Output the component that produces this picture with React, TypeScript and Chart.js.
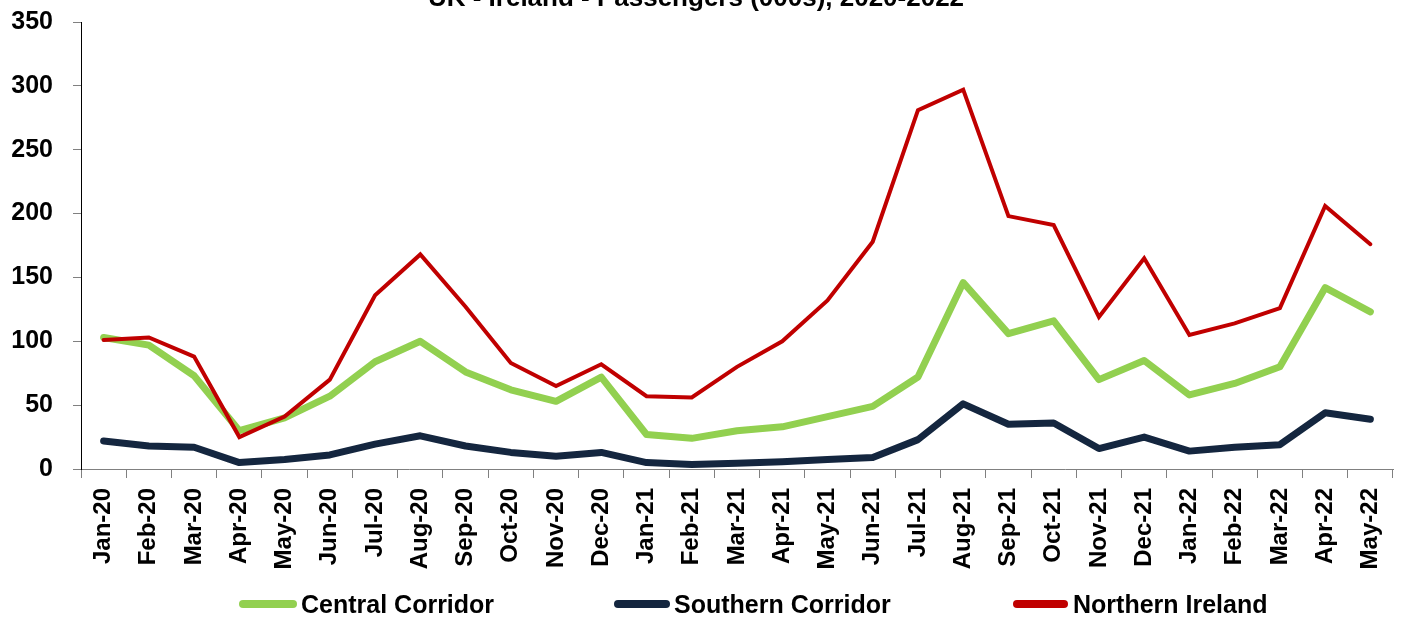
import React, { useEffect, useRef } from "react";
import { Chart, registerables } from "chart.js";

Chart.register(...registerables);

const title = "UK - Ireland - Passengers (000s), 2020-2022";

const months = [
  "Jan-20", "Feb-20", "Mar-20", "Apr-20", "May-20", "Jun-20", "Jul-20", "Aug-20",
  "Sep-20", "Oct-20", "Nov-20", "Dec-20", "Jan-21", "Feb-21", "Mar-21", "Apr-21",
  "May-21", "Jun-21", "Jul-21", "Aug-21", "Sep-21", "Oct-21", "Nov-21", "Dec-21",
  "Jan-22", "Feb-22", "Mar-22", "Apr-22", "May-22",
];

const centralCorridor = [
  103, 97, 73, 30, 40, 57, 84, 100, 76, 62, 53, 72, 27, 24, 30, 33,
  41, 49, 72, 146, 106, 116, 70, 85, 58, 67, 80, 142, 123,
];

const southernCorridor = [
  22, 18, 17, 5, 7.5, 11, 19.5, 26, 18, 13, 10, 13, 5, 3.6, 4.5, 5.7,
  7.5, 9, 23, 51, 35, 36, 16, 25, 14, 17, 19, 44, 39,
];

const northernIreland = [
  101, 103, 88, 25, 41, 70, 136, 168, 127, 83, 65, 82, 57, 56, 80, 100,
  132, 178, 281, 297, 198, 191, 119, 165, 105, 114, 126, 206, 176,
];

const seriesNames = ["Central Corridor", "Southern Corridor", "Northern Ireland"];
const seriesColors = ["#92D050", "#14263F", "#C00000"];

const yTicks = { min: 0, max: 350, step: 50 };

export default function App() {
  const ref = useRef<HTMLCanvasElement | null>(null);

  useEffect(() => {
    document.body.style.margin = "0";
    const canvas = ref.current;
    if (!canvas) return;

    const overlay = {
      id: "overlay",
      afterDraw(chart: any) {
        const ctx = chart.ctx as CanvasRenderingContext2D;
        ctx.save();
        ctx.fillStyle = "#000";
        ctx.font = "bold 26px 'Liberation Sans', Arial, sans-serif";
        ctx.textAlign = "center";
        ctx.textBaseline = "alphabetic";
        ctx.fillText(title, 696, 6);
        const items = [
          { x0: 239, x1: 297, tx: 301 },
          { x0: 614, x1: 670, tx: 674 },
          { x0: 1013, x1: 1068, tx: 1073 },
        ];
        ctx.font = "bold 25px 'Liberation Sans', Arial, sans-serif";
        ctx.textAlign = "left";
        items.forEach((it, i) => {
          ctx.strokeStyle = seriesColors[i];
          ctx.lineWidth = 8;
          ctx.lineCap = "round";
          ctx.beginPath();
          ctx.moveTo(it.x0 + 4, 604);
          ctx.lineTo(it.x1 - 4, 604);
          ctx.stroke();
          ctx.fillStyle = "#000";
          ctx.fillText(seriesNames[i], it.tx, 613);
        });
        ctx.restore();
      },
    };

    const chart = new Chart(canvas, {
      type: "line",
      data: {
        labels: months,
        datasets: [
          {
            label: seriesNames[0],
            data: centralCorridor,
            borderColor: seriesColors[0],
            backgroundColor: seriesColors[0],
            borderWidth: 7,
            pointRadius: 0,
            tension: 0,
            borderCapStyle: "round",
            borderJoinStyle: "round",
            order: 1,
          },
          {
            label: seriesNames[1],
            data: southernCorridor,
            borderColor: seriesColors[1],
            backgroundColor: seriesColors[1],
            borderWidth: 7,
            pointRadius: 0,
            tension: 0,
            borderCapStyle: "round",
            borderJoinStyle: "round",
            order: 2,
          },
          {
            label: seriesNames[2],
            data: northernIreland,
            borderColor: seriesColors[2],
            backgroundColor: seriesColors[2],
            borderWidth: 4,
            pointRadius: 0,
            tension: 0,
            borderCapStyle: "round",
            borderJoinStyle: "miter",
            order: 0,
          },
        ],
      },
      options: {
        responsive: false,
        animation: false,
        devicePixelRatio: 1,
        layout: { padding: { top: 22, right: 9, left: 0, bottom: 0 } },
        plugins: {
          legend: { display: false },
          title: { display: false },
          tooltip: { enabled: false },
        },
        scales: {
          x: {
            offset: true,
            grid: {
              display: true,
              offset: true,
              drawOnChartArea: false,
              tickLength: 9,
              color: "#808080",
              lineWidth: 1,
            },
            border: { display: true, color: "#808080", width: 1 },
            ticks: {
              autoSkip: false,
              minRotation: 90,
              maxRotation: 90,
              padding: 10,
              color: "#000",
              font: { family: "'Liberation Sans', Arial, sans-serif", size: 24, weight: "bold" },
            },
            afterFit: (s: any) => {
              s.height = 148;
              s.paddingLeft = 0;
              s.paddingRight = 0;
            },
          },
          y: {
            min: yTicks.min,
            max: yTicks.max,
            grid: {
              display: true,
              drawOnChartArea: false,
              tickLength: 8,
              color: "#808080",
            },
            border: { display: true, color: "#000", width: 1 },
            ticks: {
              stepSize: yTicks.step,
              padding: 20,
              color: "#000",
              font: { family: "'Liberation Sans', Arial, sans-serif", size: 25, weight: "bold" },
            },
            afterFit: (s: any) => {
              s.width = 81;
              s.paddingTop = 0;
              s.paddingBottom = 0;
            },
          },
        },
      },
      plugins: [overlay],
    });

    return () => chart.destroy();
  }, []);

  return (
    <div style={{ position: "absolute", left: 0, top: 0, width: 1402, height: 617 }}>
      <canvas ref={ref} width={1402} height={617} style={{ display: "block" }} />
    </div>
  );
}
